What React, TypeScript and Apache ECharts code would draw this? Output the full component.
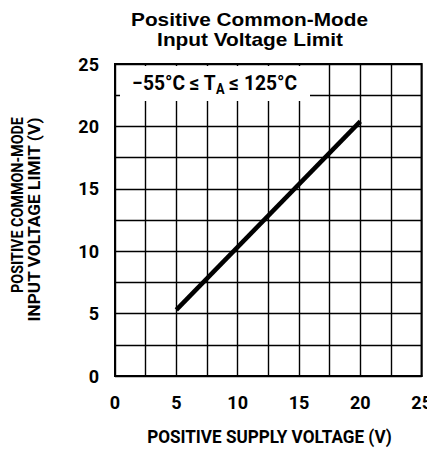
import React, { useEffect, useRef } from "react";
import * as echarts from "echarts";

const titleLines = ["Positive Common-Mode", "Input Voltage Limit"];
const xName = "POSITIVE SUPPLY VOLTAGE (V)";
const yNameLines = ["POSITIVE COMMON-MODE", "INPUT VOLTAGE LIMIT (V)"];
const legendParts = ["−55°C ≤ T", "A", " ≤ 125°C"];
const supplyVoltage = [5, 20];
const cmLimit = [5.3, 20.4];
const axisMin = 0;
const axisMax = 25;
const gridStep = 2.5;
const labelStep = 5;

const COND = "Roboto, Liberation Sans, sans-serif";
const TITLE_FONT = "Liberation Sans, Arial, sans-serif";

function measure(text: string, font: string): number {
  const c = document.createElement("canvas");
  const ctx = c.getContext("2d")!;
  ctx.font = font;
  return ctx.measureText(text).width;
}

export default function App() {
  const ref = useRef<HTMLDivElement>(null);
  useEffect(() => {
    const chart = echarts.init(ref.current!, null, { renderer: "svg" });
    const fmt = (v: number) => (v % labelStep === 0 ? String(v) : "");
    const labelStyle = {
      formatter: fmt,
      color: "#000",
      fontFamily: COND,
      fontWeight: "bold" as const,
      fontSize: 18,
    };
    const axisCommon = {
      type: "value" as const,
      min: axisMin,
      max: axisMax,
      interval: gridStep,
      axisLine: { show: true, lineStyle: { color: "#000", width: 2 } },
      axisTick: { show: false },
      splitLine: { show: true, lineStyle: { color: "#000", width: 1.4 } },
    };

    const tSize = 18.5;
    const tFont = `bold ${tSize}px ${TITLE_FONT}`;
    const t1Scale = 237 / measure(titleLines[0], tFont);
    const t2Scale = 186 / measure(titleLines[1], tFont);

    const xnSize = 18;
    const xnScale = 245 / measure(xName, `bold ${xnSize}px ${COND}`);

    const ynSize = 17;
    const yn1Scale = 176 / measure(yNameLines[0], `bold ${ynSize}px ${COND}`);
    const yn2Scale = 205 / measure(yNameLines[1], `bold ${ynSize}px ${COND}`);

    const lgSize = 21;
    const lgSub = 14;
    const lgW =
      measure(legendParts[0], `bold ${lgSize}px ${COND}`) +
      measure(legendParts[1], `bold ${lgSub}px ${COND}`) +
      measure(legendParts[2], `bold ${lgSize}px ${COND}`);
    const lgScale = 165 / lgW;

    const txt = (
      text: string,
      x: number,
      y: number,
      size: number,
      family: string,
      scaleX: number,
      rotation = 0
    ) => ({
      type: "text",
      x,
      y,
      rotation,
      scaleX,
      z: 11,
      style: {
        text,
        fontFamily: family,
        fontWeight: "bold",
        fontSize: size,
        fill: "#000",
        textAlign: "center",
        textVerticalAlign: "middle",
      },
    });

    chart.setOption({
      animation: false,
      backgroundColor: "#fff",
      grid: {
        left: 115,
        top: 64,
        width: 310,
        height: 312,
        show: true,
        borderColor: "#000",
        borderWidth: 2,
      },
      xAxis: {
        ...axisCommon,
        axisLabel: { ...labelStyle, margin: 17 },
      },
      yAxis: {
        ...axisCommon,
        axisLabel: { ...labelStyle, margin: 16 },
      },
      graphic: [
        txt(titleLines[0], 249.5, 19.5, tSize, TITLE_FONT, t1Scale),
        txt(titleLines[1], 250, 39.5, tSize, TITLE_FONT, t2Scale),
        txt(xName, 269.5, 437, xnSize, COND, xnScale),
        txt(yNameLines[0], 17.5, 205, ynSize, COND, yn1Scale, Math.PI / 2),
        txt(yNameLines[1], 34, 219.5, ynSize, COND, yn2Scale, Math.PI / 2),
        {
          type: "rect",
          x: 120,
          y: 66,
          shape: { width: 190, height: 35 },
          style: { fill: "#fff" },
          z: 10,
        },
        {
          type: "text",
          x: 214.5,
          y: 83,
          scaleX: lgScale,
          z: 11,
          style: {
            text: `{m|${legendParts[0]}}{s|${legendParts[1]}}{m|${legendParts[2]}}`,
            textAlign: "center",
            textVerticalAlign: "middle",
            rich: {
              m: {
                fontFamily: COND,
                fontWeight: "bold",
                fontSize: lgSize,
                lineHeight: 26,
                fill: "#000",
                verticalAlign: "middle",
              },
              s: {
                fontFamily: COND,
                fontWeight: "bold",
                fontSize: lgSub,
                lineHeight: 26,
                fill: "#000",
                verticalAlign: "bottom",
              },
            },
          },
        },
      ],
      series: [
        {
          type: "line",
          data: supplyVoltage.map((x, i) => [x, cmLimit[i]]),
          symbol: "none",
          lineStyle: { color: "#000", width: 4.5 },
          z: 5,
        },
      ],
    });
    return () => chart.dispose();
  }, []);
  return <div ref={ref} style={{ width: 435, height: 456, margin: -8 }} />;
}
